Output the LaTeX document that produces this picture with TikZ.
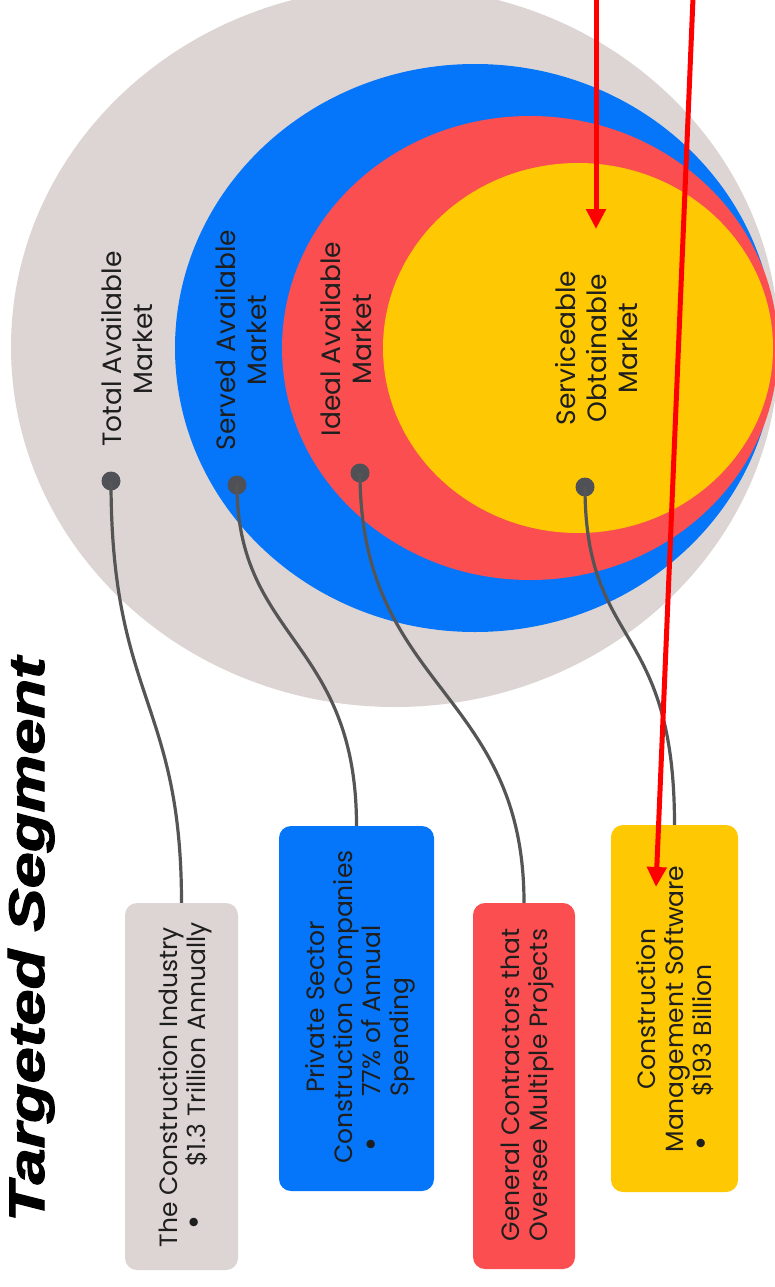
\documentclass[tikz,border=0pt]{standalone}
\usepackage{graphicx}
\usepackage{fontspec}
\setmainfont{Poppins}
\newfontfamily\titlefont[BoldItalicFeatures={FakeBold=2}]{Liberation Sans}
\usetikzlibrary{arrows.meta}

\definecolor{tamgray}{HTML}{DDD5D3}
\definecolor{samblue}{HTML}{0576F9}
\definecolor{iamred}{HTML}{FA4E50}
\definecolor{somyellow}{HTML}{FEC803}
\definecolor{wire}{HTML}{555555}
\definecolor{pin}{HTML}{4F5157}
\definecolor{ink}{HTML}{1E1E1E}
\definecolor{callout}{HTML}{FF0000}

\begin{document}
\begin{tikzpicture}[x=1pt,y=-1pt,
  lab/.style={rotate=90, align=center, text=ink, inner sep=0pt,
    font=\fontsize{26.5}{31}\selectfont},
  boxtxt/.style={rotate=90, text=ink, inner sep=0pt,
    font=\fontsize{25}{28}\selectfont},
  bulletmark/.style={rotate=90, text=ink, inner sep=0pt,
    font=\fontsize{34}{34}\selectfont},
  card/.style={rounded corners=12pt, inner sep=0pt},
  pindot/.style={circle, fill=pin, minimum size=19pt, inner sep=0pt},
  wireline/.style={draw=wire, line width=3.2pt},
  calloutarrow/.style={draw=callout, line width=5pt,
    -{Triangle[length=20pt,width=19pt]}}]

\useasboundingbox (0,0) rectangle (775,1287);
\fill[white] (0,0) rectangle (775,1287);

% nested market ellipses
\begin{scope}
  \clip (0,0) rectangle (775,1287);
  \fill[tamgray]   (395,347) ellipse [x radius=384, y radius=360];
  \fill[samblue]   (475,348) ellipse [x radius=300, y radius=284];
  \fill[iamred]    (530,348) ellipse [x radius=248, y radius=232];
  \fill[somyellow] (578,348) ellipse [x radius=195, y radius=185];
\end{scope}

% ellipse labels
\node[lab] (tamlab) at (127,349) {Total Available\\Market};
\node[lab] (samlab) at (241,340) {Served Available\\Market};
\node[lab] (iamlab) at (346,339) {Ideal Available\\Market};
\node[lab] (somlab) at (597,348) {Serviceable\\Obtainable\\Market};

% title
\node[rotate=90, anchor=base west, inner sep=0pt] (title) at (44,1222)
  {\titlefont\bfseries\itshape\fontsize{50}{50}\selectfont\scalebox{1.3}[1]{Targeted Segment}};

% cards
\node[card, fill=tamgray,   minimum width=113pt, minimum height=367pt] (tambox) at (181.5,1086.5) {};
\node[card, fill=samblue,   minimum width=155pt, minimum height=365pt] (sambox) at (356.5,1008.5) {};
\node[card, fill=iamred,    minimum width=102pt, minimum height=366pt] (iambox) at (524,1086) {};
\node[card, fill=somyellow, minimum width=127pt, minimum height=367pt] (sombox) at (674.5,1008.5) {};

% card texts
\node[boxtxt, anchor=base] (tamt1) at (177,1087) {The Construction Industry};
\node[bulletmark] (tamb) at (198,1222) {\textbullet};
\node[boxtxt, anchor=base west] (tamt2) at (205,1167) {\$1.3 Trillion Annually};

\node[boxtxt, anchor=base] (samt1) at (324,1007) {Private Sector};
\node[boxtxt, anchor=base] (samt2) at (352,1007) {Construction Companies};
\node[bulletmark] (samb) at (375,1144) {\textbullet};
\node[boxtxt, anchor=base west] (samt3) at (380,1097) {77\% of Annual};
\node[boxtxt, anchor=base west] (samt4) at (408,1097) {Spending};

\node[boxtxt, anchor=base] (iamt1) at (519,1085) {General Contractors that};
\node[boxtxt, anchor=base] (iamt2) at (547,1085) {Oversee Multiple Projects};

\node[boxtxt, anchor=base] (somt1) at (655,1009) {Construction};
\node[boxtxt, anchor=base] (somt2) at (683,1009) {Management Software};
\node[bulletmark] (somb) at (705,1143) {\textbullet};
\node[boxtxt, anchor=base west] (somt3) at (711,1097) {\$193 Billion};

% pins and leader lines
\node[pindot] (tamdot) at (111,481) {};
\node[pindot] (samdot) at (237,485) {};
\node[pindot] (iamdot) at (360,473) {};
\node[pindot] (somdot) at (585,487) {};

\draw[wireline] (tamdot.center) .. controls +(0,219) and +(0,-202) .. (tambox.north);
\draw[wireline] (samdot.center) .. controls +(0,155) and +(0,-186) .. (sambox.north);
\draw[wireline] (iamdot.center) .. controls +(0,217) and +(0,-213) .. (iambox.north);
\draw[wireline] (somdot.center) .. controls +(0,163) and +(0,-205) .. (sombox.north);

% red callout arrows
\coordinate (callAstart) at (596,-2);
\coordinate (callAend) at (596,229);
\coordinate (callBstart) at (693,-2);
\coordinate (callBend) at (656,887);
\draw[calloutarrow] (callAstart) -- (callAend);
\draw[calloutarrow] (callBstart) -- (callBend);
\end{tikzpicture}
\end{document}
